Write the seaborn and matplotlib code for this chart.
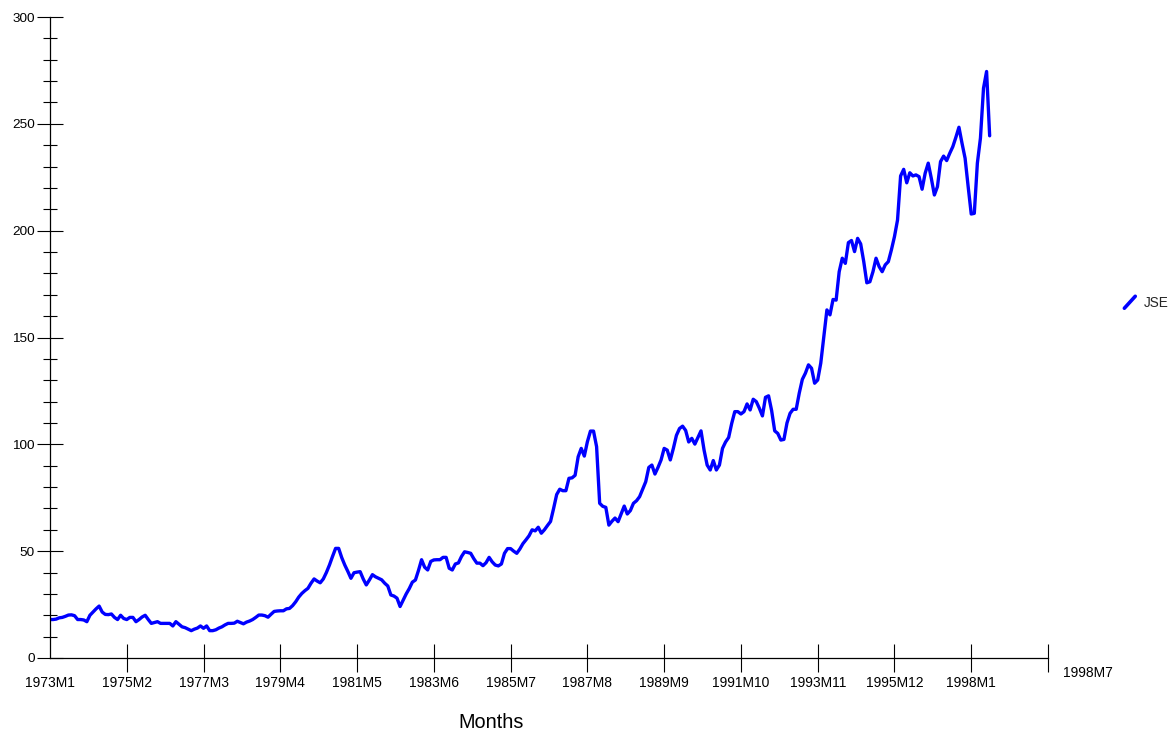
import numpy as np
import pandas as pd
import matplotlib
matplotlib.use("Agg")
import matplotlib.pyplot as plt
from matplotlib.lines import Line2D
from matplotlib.legend_handler import HandlerBase
from matplotlib.ticker import MultipleLocator, FixedLocator
import seaborn as sns

# ---------------- data (monthly JSE index, 1973M1 .. 1998M7) ----------------
start_year = 1973
jse_values = [
    18.0, 18.0, 18.2, 18.8, 19.0, 19.5, 20.1, 20.2, 19.8, 18.0, 18.0, 17.8,   # 1973
    17.0, 20.0, 21.5, 23.0, 24.3, 21.5, 20.4, 20.3, 20.6, 19.0, 18.0, 20.0,   # 1974
    18.5, 18.0, 19.0, 19.0, 17.0, 18.0, 19.2, 20.0, 18.0, 16.2, 16.6, 17.0,   # 1975
    16.2, 16.2, 16.2, 16.2, 15.0, 17.0, 15.8, 14.6, 14.2, 13.5, 12.8, 13.5,   # 1976
    14.0, 15.0, 13.9, 15.0, 12.8, 12.8, 13.2, 14.0, 14.6, 15.5, 16.2, 16.2,   # 1977
    16.3, 17.2, 16.6, 16.0, 16.8, 17.3, 18.0, 19.0, 20.1, 20.1, 19.8, 19.1,   # 1978
    20.5, 21.8, 22.0, 22.1, 22.1, 23.0, 23.2, 24.5, 26.3, 28.5, 30.2, 31.5,   # 1979
    32.6, 35.0, 37.0, 36.0, 35.2, 37.0, 40.0, 43.5, 47.5, 51.3, 51.3, 47.0,   # 1980
    43.5, 40.5, 37.3, 39.9, 40.2, 40.4, 37.0, 34.2, 36.5, 39.0, 38.0, 37.3,   # 1981
    36.6, 35.0, 33.7, 29.5, 29.0, 28.0, 24.1, 27.0, 30.0, 32.5, 35.5, 36.5,   # 1982
    41.0, 46.0, 42.5, 41.2, 45.2, 45.9, 46.0, 46.0, 47.1, 47.1, 42.0, 41.2,   # 1983
    44.0, 44.5, 47.5, 49.7, 49.4, 49.0, 46.5, 44.4, 44.4, 43.2, 44.6, 47.1,   # 1984
    45.0, 43.5, 43.1, 44.0, 49.0, 51.2, 51.2, 50.0, 49.0, 51.0, 53.5, 55.3,   # 1985
    57.2, 60.0, 59.5, 61.2, 58.4, 60.0, 62.0, 63.9, 70.0, 76.5, 79.0, 78.3,   # 1986
    78.3, 84.1, 84.3, 85.5, 94.2, 98.1, 94.5, 101.2, 106.2, 106.2, 98.9, 72.4,  # 1987
    71.0, 70.5, 62.2, 64.0, 65.5, 63.8, 67.4, 71.1, 67.4, 69.0, 72.4, 73.6,   # 1988
    75.5, 79.0, 82.5, 89.2, 90.3, 86.1, 89.2, 92.7, 98.1, 97.3, 92.7, 98.1,   # 1989
    104.2, 107.4, 108.5, 106.5, 101.1, 102.8, 100.1, 103.2, 106.3, 97.3, 90.3, 88.0,  # 1990
    92.4, 88.0, 90.3, 98.1, 101.1, 103.2, 109.8, 115.3, 115.3, 114.2, 115.3, 118.9,  # 1991
    116.1, 121.1, 120.0, 116.9, 113.3, 122.0, 122.7, 115.8, 106.3, 105.1, 102.0, 102.3,  # 1992
    110.0, 114.5, 116.4, 116.4, 124.0, 130.4, 133.3, 137.2, 135.6, 128.6, 130.1, 138.0,  # 1993
    150.4, 162.9, 160.6, 167.8, 167.5, 180.8, 187.1, 184.7, 194.4, 195.4, 190.2, 196.4,  # 1994
    193.8, 185.5, 175.6, 176.1, 180.8, 187.1, 183.2, 180.8, 184.0, 185.5, 191.0, 197.2,  # 1995
    205.0, 225.6, 228.7, 222.4, 227.1, 225.6, 226.1, 225.3, 219.4, 226.9, 231.6, 224.5,  # 1996
    216.7, 220.6, 232.3, 234.9, 232.8, 236.2, 239.3, 243.7, 248.4, 240.9, 233.9, 220.6,  # 1997
    207.8, 208.1, 231.6, 243.3, 266.7, 274.5, 244.4,                                    # 1998
]
tick_labels = ["1973M1", "1975M2", "1977M3", "1979M4", "1981M5", "1983M6",
               "1985M7", "1987M8", "1989M9", "1991M10", "1993M11", "1995M12",
               "1998M1", ""]
last_period_label = "1998M7"
series_name = "JSE"
x_title = "Months"

periods = [f"{start_year + i // 12}M{i % 12 + 1}" for i in range(len(jse_values))]
df = pd.DataFrame({"t": np.arange(len(jse_values)), "period": periods, series_name: jse_values})

# ---------------- style ----------------
sns.set_theme(style="ticks")
plt.rcParams["font.family"] = ["Liberation Sans", "DejaVu Sans"]
plt.rcParams["axes.linewidth"] = 0.9

W, H = 1173, 736
fig = plt.figure(figsize=(W / 100, H / 100), dpi=100)
ax = fig.add_axes([50 / W, 1 - 658 / H, 998 / W, 641 / H])

sns.lineplot(data=df, x="t", y=series_name, color="#0000FF", linewidth=2.4,
             ax=ax, label=series_name, solid_joinstyle="round")

ax.set_xlim(0, 325)
ax.set_ylim(0, 300)
for s in ("top", "right"):
    ax.spines[s].set_visible(False)
for s in ("left", "bottom"):
    ax.spines[s].set_color("black")

# x ticks
ax.xaxis.set_major_locator(FixedLocator(np.arange(0, 326, 25)))
ax.set_xticklabels(tick_labels)
ax.tick_params(axis="x", which="major", direction="inout", length=19.5,
               width=0.8, color="black", pad=3, labelsize=10, labelcolor="black")
# y ticks
ax.yaxis.set_major_locator(MultipleLocator(50))
ax.yaxis.set_minor_locator(MultipleLocator(10))
ax.tick_params(axis="y", which="major", direction="inout", length=18.7,
               width=0.8, color="black", pad=1.5, labelsize=9.7, labelcolor="black")
ax.tick_params(axis="y", which="minor", direction="inout", length=10,
               width=0.8, color="black")

fig.canvas.draw()
ax.xaxis.get_major_ticks()[0].tick1line.set_visible(False)
ax.yaxis.get_major_ticks()[0].tick1line.set_visible(False)

ax.set_xlabel(x_title, fontsize=14.3, color="black")
ax.set_ylabel("")
ax.xaxis.label.set_va("center")
ax.xaxis.set_label_coords((491 - 50) / 998, (658 - 722) / 641)

fig.text(1088 / W, 1 - 673 / H, last_period_label, ha="center", va="center",
         fontsize=10, color="black")


class DiagHandler(HandlerBase):
    def create_artists(self, legend, orig_handle, xdescent, ydescent,
                       width, height, fontsize, trans):
        ln = Line2D([0.1 * width - xdescent, 0.9 * width - xdescent],
                    [-ydescent - 0.1 * height, height - ydescent + 0.1 * height],
                    color=orig_handle.get_color(), linewidth=2.6,
                    solid_capstyle="round")
        ln.set_transform(trans)
        return [ln]


handles, labels = ax.get_legend_handles_labels()
ax.legend(handles, labels, handler_map={Line2D: DiagHandler()},
          loc="center left", bbox_to_anchor=(1123 / W, 1 - 303 / H),
          bbox_transform=fig.transFigure, frameon=False, fontsize=9.8,
          handlelength=1.0, handleheight=0.75, handletextpad=0.55,
          borderpad=0, borderaxespad=0)

fig.savefig("out.png", dpi=100, facecolor="white")
